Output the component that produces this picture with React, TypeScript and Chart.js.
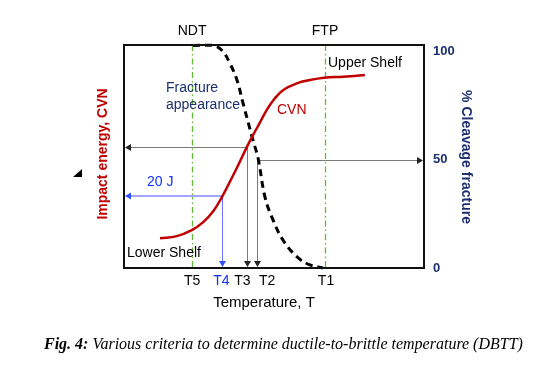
import React, { useEffect, useRef } from "react";
import { Chart, registerables } from "chart.js";

Chart.register(...registerables);

// ---- data (arbitrary temperature units 0..100, CVN energy 0..100, % cleavage 0..103) ----
const cvnTemps = [12, 17.6, 22.6, 26.4, 29.8, 32.6, 35.3, 38.1, 40.9, 43.1, 45.3, 47.6, 50.3, 53.1, 57.6, 62, 66.7, 73.1, 80.3];
const cvnEnergy = [13.3, 14.3, 17.0, 20.6, 25.6, 31.7, 38.7, 46.2, 54.1, 59.8, 65.2, 70.9, 76.1, 79.8, 82.8, 84.3, 85.3, 85.8, 86.5];
const fatTemps = [23, 29.7, 32.7, 35.3, 37.7, 39.7, 43, 44.7, 47, 49.7, 53, 57.7, 62, 66.3];
const fatPercent = [102.8, 102.8, 100.5, 94.5, 86.6, 76, 59, 50.7, 32.7, 22.1, 12.9, 5.1, 1.4, 0];
const tempLabels = ["T5", "T4", "T3", "T2", "T1"];
const tempValues = [22.7, 32.8, 41.1, 44.4, 67];
const criteriaLabels = ["NDT", "FTP"];
const criteriaValues = [22.7, 67];
const percentTicks = [0, 50, 100];
const energyAtT4 = 32.3; // 20 J level
const energyAtT3 = 54.1;
const percentAtT2 = 50;

const SANS = "'Liberation Sans', Arial, sans-serif";
const SERIF = "'Liberation Serif', 'Times New Roman', serif";
const NAVY = "#1c2f6e";
const RED = "#c00000";

function arrow(ctx: CanvasRenderingContext2D, x: number, y: number, dir: string, color: string) {
  const L = 6, W = 3.5;
  ctx.save();
  ctx.fillStyle = color;
  ctx.beginPath();
  if (dir === "left") { ctx.moveTo(x, y); ctx.lineTo(x + L, y - W); ctx.lineTo(x + L, y + W); }
  if (dir === "right") { ctx.moveTo(x, y); ctx.lineTo(x - L, y - W); ctx.lineTo(x - L, y + W); }
  if (dir === "down") { ctx.moveTo(x, y); ctx.lineTo(x - W, y - L); ctx.lineTo(x + W, y - L); }
  ctx.closePath();
  ctx.fill();
  ctx.restore();
}

function text(ctx: CanvasRenderingContext2D, s: string, x: number, y: number, font: string, color: string, align: CanvasTextAlign = "left") {
  ctx.save();
  ctx.font = font;
  ctx.fillStyle = color;
  ctx.textAlign = align;
  ctx.textBaseline = "middle";
  ctx.fillText(s, x, y);
  ctx.restore();
}

const decorPlugin = {
  id: "decor",
  beforeDatasetsDraw(chart: any) {
    const { ctx, chartArea: a, scales } = chart;
    const xs = scales.x, ys = scales.y, y2 = scales.y2;
    // green dash-dot criteria lines
    ctx.save();
    ctx.strokeStyle = "#62b83a";
    ctx.lineWidth = 1.3;
    ctx.setLineDash([6, 3, 1.5, 3]);
    criteriaValues.forEach((v) => {
      const px = Math.round(xs.getPixelForValue(v)) + 0.5;
      ctx.beginPath();
      ctx.moveTo(px, a.top);
      ctx.lineTo(px, a.bottom);
      ctx.stroke();
    });
    ctx.restore();

    const xT4 = xs.getPixelForValue(tempValues[1]);
    const xT3 = xs.getPixelForValue(tempValues[2]);
    const xT2 = xs.getPixelForValue(tempValues[3]);

    // black construction lines
    ctx.save();
    ctx.strokeStyle = "#7a7a7a";
    ctx.lineWidth = 1;
    const yE3 = Math.round(ys.getPixelForValue(energyAtT3)) + 0.5;
    const yP2 = Math.round(y2.getPixelForValue(percentAtT2)) + 0.5;
    ctx.beginPath();
    ctx.moveTo(a.left + 4, yE3);
    ctx.lineTo(Math.round(xT3) + 0.5, yE3);
    ctx.lineTo(Math.round(xT3) + 0.5, a.bottom - 4);
    ctx.moveTo(a.right - 4, yP2);
    ctx.lineTo(Math.round(xT2) + 0.5, yP2);
    ctx.lineTo(Math.round(xT2) + 0.5, a.bottom - 4);
    ctx.stroke();
    ctx.restore();
    arrow(ctx, a.left + 1, yE3, "left", "#222");
    arrow(ctx, a.right - 1, yP2, "right", "#222");
    arrow(ctx, Math.round(xT3) + 0.5, a.bottom - 1, "down", "#222");
    arrow(ctx, Math.round(xT2) + 0.5, a.bottom - 1, "down", "#222");

    // blue 20 J construction
    const yE4 = Math.round(ys.getPixelForValue(energyAtT4));
    ctx.save();
    ctx.strokeStyle = "#a4a4ff";
    ctx.lineWidth = 2;
    ctx.beginPath();
    ctx.moveTo(a.left + 4, yE4);
    ctx.lineTo(xT4, yE4);
    ctx.stroke();
    ctx.strokeStyle = "#6f6fff";
    ctx.lineWidth = 1;
    ctx.beginPath();
    ctx.moveTo(Math.round(xT4) + 0.5, yE4);
    ctx.lineTo(Math.round(xT4) + 0.5, a.bottom - 4);
    ctx.stroke();
    ctx.restore();
    arrow(ctx, a.left + 1, yE4, "left", "#3050ff");
    arrow(ctx, Math.round(xT4) + 0.5, a.bottom - 1, "down", "#3050ff");
  },
  afterDraw(chart: any) {
    const { ctx, chartArea: a, scales } = chart;
    const xs = scales.x, y2 = scales.y2;
    // frame
    ctx.save();
    ctx.strokeStyle = "#111";
    ctx.lineWidth = 2;
    ctx.strokeRect(a.left, a.top, a.right - a.left, a.bottom - a.top);
    ctx.restore();

    const f14 = `14px ${SANS}`;
    criteriaLabels.forEach((s, i) => text(ctx, s, xs.getPixelForValue(criteriaValues[i]), a.top - 14, f14, "#000", "center"));
    const nudge: Record<string, number> = { T3: -5, T2: 10, T4: -1, T1: 1 };
    tempLabels.forEach((s, i) =>
      text(ctx, s, xs.getPixelForValue(tempValues[i]) + (nudge[s] || 0), a.bottom + 13, f14, s === "T4" ? "#1030ff" : "#000", "center")
    );
    text(ctx, "Temperature, T", 264, a.bottom + 35, `15px ${SANS}`, "#000", "center");

    // right axis ticks
    percentTicks.forEach((v) => text(ctx, String(v), a.right + 9, y2.getPixelForValue(v), `bold 13px ${SANS}`, NAVY));

    // in-plot labels
    text(ctx, "Upper Shelf", 328, 63, f14, "#000");
    text(ctx, "Fracture", 166, 88, f14, NAVY);
    text(ctx, "appearance", 166, 105, f14, NAVY);
    text(ctx, "CVN", 277, 110, f14, RED);
    text(ctx, "20 J", 147, 182, f14, "#1030ff");
    text(ctx, "Lower Shelf", 127, 253, f14, "#000");

    // axis titles
    ctx.save();
    ctx.translate(103, 154);
    ctx.rotate(-Math.PI / 2);
    text(ctx, "Impact energy, CVN", 0, 0, `bold 14px ${SANS}`, RED, "center");
    ctx.restore();
    ctx.save();
    ctx.translate(466, 157);
    ctx.rotate(Math.PI / 2);
    text(ctx, "% Cleavage fracture", 0, 0, `bold 14px ${SANS}`, NAVY, "center");
    ctx.restore();

    // small triangle mark
    ctx.save();
    ctx.fillStyle = "#000";
    ctx.beginPath();
    ctx.moveTo(82, 169);
    ctx.lineTo(82, 177);
    ctx.lineTo(73, 177);
    ctx.closePath();
    ctx.fill();
    ctx.restore();

    // caption
    ctx.save();
    ctx.textBaseline = "middle";
    ctx.fillStyle = "#000";
    ctx.font = `italic bold 16px ${SERIF}`;
    const lead = "Fig. 4:";
    ctx.fillText(lead, 44, 345);
    const w = ctx.measureText(lead + " ").width;
    ctx.font = `italic 16px ${SERIF}`;
    ctx.fillText("Various criteria to determine ductile-to-brittle temperature (DBTT)", 44 + w, 345);
    ctx.restore();
  },
};

export default function App() {
  const ref = useRef<HTMLCanvasElement | null>(null);
  useEffect(() => {
    if (!ref.current) return;
    const chart = new Chart(ref.current, {
      type: "line",
      data: {
        datasets: [
          {
            label: "CVN",
            data: cvnTemps.map((t, i) => ({ x: t, y: cvnEnergy[i] })),
            borderColor: RED,
            borderWidth: 2.5,
            pointRadius: 0,
            tension: 0.4,
            yAxisID: "y",
            clip: false as any,
          },
          {
            label: "Fracture appearance",
            data: fatTemps.map((t, i) => ({ x: t, y: fatPercent[i] })),
            borderColor: "#000",
            borderWidth: 3,
            borderDash: [7, 5],
            pointRadius: 0,
            tension: 0.4,
            yAxisID: "y2",
            clip: false as any,
          },
        ],
      },
      options: {
        animation: false,
        responsive: false,
        devicePixelRatio: 1,
        layout: { padding: { left: 124, top: 45, right: 127, bottom: 105 } },
        plugins: { legend: { display: false }, title: { display: false }, tooltip: { enabled: false } },
        scales: {
          x: { type: "linear", min: 0, max: 100, display: false },
          y: { type: "linear", min: 0, max: 100, display: false },
          y2: { type: "linear", min: 0, max: 103, display: false, position: "right" },
        },
      },
      plugins: [decorPlugin],
    });
    return () => chart.destroy();
  }, []);
  return (
    <div style={{ position: "fixed", left: 0, top: 0, width: 551, height: 373, background: "#fff" }}>
      <canvas ref={ref} width={551} height={373} style={{ display: "block" }} />
    </div>
  );
}
